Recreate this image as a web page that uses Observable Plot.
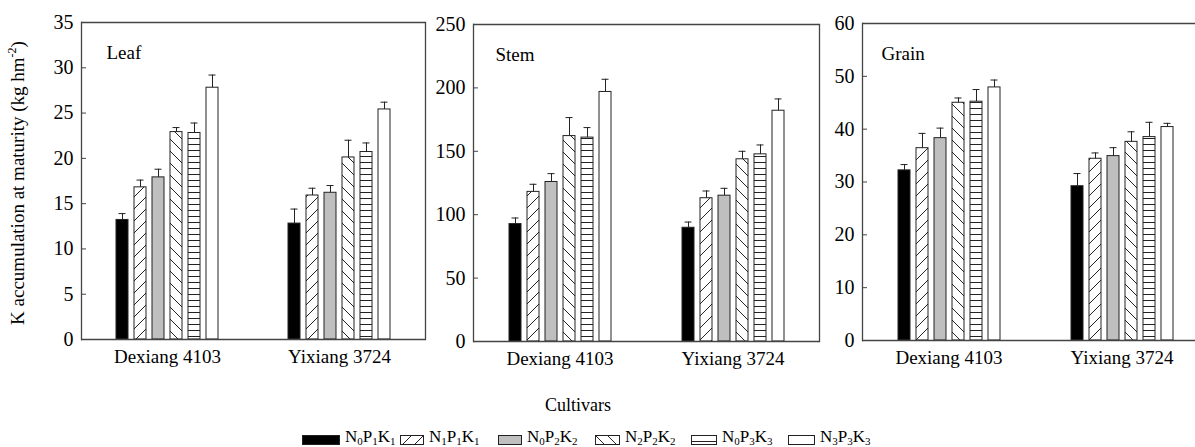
<!DOCTYPE html>
<html>
<head>
<meta charset="utf-8">
<script src="https://cdn.jsdelivr.net/npm/d3@7"></script>
<script src="https://cdn.jsdelivr.net/npm/@observablehq/plot@0.6"></script>
<style>
  html, body { margin: 0; padding: 0; background: #fff; overflow: hidden; }
  #fig { position: relative; width: 1195px; height: 447px; overflow: hidden; background: #fff;
         font-family: "Liberation Serif", "Times New Roman", serif; color: #000; }
  .panel { position: absolute; top: 0; }
  .panel svg { max-width: none !important; }
  #fig svg text { font-family: "Liberation Serif", "Times New Roman", serif !important; }
  .ytitle { position: absolute; left: 17px; top: 183px; white-space: nowrap; font-size: 19px;
            transform: translate(-50%, -50%) rotate(-90deg); }
  .xtitle { position: absolute; left: 578px; top: 396px; transform: translateX(-50%); font-size: 18px; line-height: 1; }
  .leg { position: absolute; top: 428px; height: 18px; display: flex; align-items: flex-start; font-size: 17px; line-height: 1; white-space: nowrap; }
  .leg svg { margin-top: 7px; margin-right: 5px; overflow: visible; }
  .leg sub { font-size: 11px; vertical-align: -3px; line-height: 0; }
</style>
</head>
<body>
<svg width="0" height="0" style="position:absolute">
  <defs>
    <pattern id="hatchFwd" patternUnits="userSpaceOnUse" width="12" height="12">
      <rect width="12" height="12" fill="#fff"/>
      <path d="M0,12 L12,0 M-3,3 L3,-3 M9,15 L15,9" stroke="#222" stroke-width="1"/>
    </pattern>
    <pattern id="hatchBack" patternUnits="userSpaceOnUse" width="12" height="12">
      <rect width="12" height="12" fill="#fff"/>
      <path d="M0,0 L12,12 M-3,9 L3,15 M9,-3 L15,3" stroke="#222" stroke-width="1"/>
    </pattern>
    <pattern id="hLines" patternUnits="userSpaceOnUse" width="8" height="6">
      <rect width="8" height="6" fill="#fff"/>
      <path d="M0,0.5 H8" stroke="#222" stroke-width="1"/>
    </pattern>
  </defs>
</svg>
<div id="fig">
  <div class="ytitle">K accumulation at maturity (kg hm<sup style="font-size:12px">-2</sup>)</div>
  <div class="xtitle">Cultivars</div>
</div>
<script>
// ---- data ----
const cultivars = ["Dexiang 4103", "Yixiang 3724"];
const treatments = ["N0P1K1", "N1P1K1", "N0P2K2", "N2P2K2", "N0P3K3", "N3P3K3"];
const fills = ["#000", "url(#hatchFwd)", "#bfbfbf", "url(#hatchBack)", "url(#hLines)", "#fff"];

const leafDexiang = [13.2, 16.8, 17.9, 22.9, 22.8, 27.8];
const leafDexiangSE = [0.7, 0.8, 0.9, 0.5, 1.1, 1.4];
const leafYixiang = [12.8, 15.9, 16.2, 20.1, 20.7, 25.4];
const leafYixiangSE = [1.6, 0.8, 0.8, 1.9, 1.0, 0.8];

const stemDexiang = [92.6, 118, 125.8, 162, 160.8, 196.8];
const stemDexiangSE = [4.8, 6.0, 6.6, 14.6, 7.9, 10.0];
const stemYixiang = [89.7, 113, 115, 143.7, 147.6, 182];
const stemYixiangSE = [4.5, 5.7, 5.8, 6.3, 7.4, 9.3];

const grainDexiang = [32.2, 36.4, 38.3, 45.0, 45.2, 47.9];
const grainDexiangSE = [1.1, 2.8, 1.9, 0.9, 2.3, 1.4];
const grainYixiang = [29.2, 34.4, 34.9, 37.6, 38.5, 40.4];
const grainYixiangSE = [2.4, 1.1, 1.6, 1.9, 2.8, 0.7];

const leafTicks = [0, 5, 10, 15, 20, 25, 30, 35];
const stemTicks = [0, 50, 100, 150, 200, 250];
const grainTicks = [0, 10, 20, 30, 40, 50, 60];

function rows(dex, dexSE, yix, yixSE) {
  const out = [];
  treatments.forEach((t, i) => {
    out.push({cultivar: cultivars[0], treatment: t, value: dex[i], se: dexSE[i]});
    out.push({cultivar: cultivars[1], treatment: t, value: yix[i], se: yixSE[i]});
  });
  return out;
}

const fig = document.getElementById("fig");
const ink = "#222";
const lineCol = "#444";
const serif = "Liberation Serif, Times New Roman, serif";

function panel({data, ticks, label, left, top, width, labelDx}) {
  const ymax = ticks[ticks.length - 1];
  const bottom = 31;
  const W = 50 + width + 1;
  const plot = Plot.plot({
    width: W,
    height: top + 317 + bottom,
    marginLeft: 50, marginRight: 1, marginTop: top, marginBottom: bottom,
    style: {background: "transparent", fontFamily: serif, fontSize: "20px", color: "#000", overflow: "visible", maxWidth: "none"},
    fx: {domain: cultivars, padding: 0, label: null},
    x: {domain: treatments, axis: null, paddingInner: 0.35, paddingOuter: 1.83},
    y: {domain: [0, ymax]},
    color: {domain: treatments, range: fills},
    marks: [
      Plot.barY(data, {fx: "cultivar", x: "treatment", y: "value", fill: "treatment", stroke: ink, strokeWidth: 1}),
      Plot.ruleX(data, {fx: "cultivar", x: "treatment", y1: "value", y2: d => d.value + d.se, stroke: ink, strokeWidth: 1}),
      Plot.tickY(data, {fx: "cultivar", x: "treatment", y: d => d.value + d.se, stroke: ink, strokeWidth: 1, insetLeft: 2.5, insetRight: 2.5}),
      Plot.ruleY([0], {stroke: lineCol, strokeWidth: 1.3}),
      Plot.ruleY([ymax], {stroke: lineCol, strokeWidth: 1.3}),
      Plot.frame({anchor: "left", facetAnchor: "left", stroke: lineCol, strokeWidth: 1.3}),
      Plot.frame({anchor: "right", facetAnchor: "right", stroke: lineCol, strokeWidth: 1.3}),
      Plot.axisY({ticks, tickSize: -5, tickPadding: 13, label: null, stroke: lineCol, fontFamily: serif, fontSize: 20, fill: "#000"}),
      Plot.axisFx({anchor: "bottom", tickSize: 0, tickPadding: 10, label: null, fontFamily: serif, fontSize: 19, fill: "#000"}),
      Plot.text([label], {fx: () => cultivars[0], frameAnchor: "top-left", lineAnchor: "top", textAnchor: "start", dx: labelDx, dy: 23, fontSize: 19, fontFamily: serif})
    ]
  });
  plot.style.maxWidth = "none";
  const wrap = document.createElement("div");
  wrap.className = "panel";
  wrap.style.left = (left - 50) + "px";
  wrap.style.width = W + "px";
  wrap.appendChild(plot);
  fig.appendChild(wrap);
}

panel({data: rows(leafDexiang, leafDexiangSE, leafYixiang, leafYixiangSE), ticks: leafTicks, label: "Leaf", left: 80, top: 22, width: 345, labelDx: 25});
panel({data: rows(stemDexiang, stemDexiangSE, stemYixiang, stemYixiangSE), ticks: stemTicks, label: "Stem", left: 473, top: 24, width: 346, labelDx: 22});
panel({data: rows(grainDexiang, grainDexiangSE, grainYixiang, grainYixiangSE), ticks: grainTicks, label: "Grain", left: 862, top: 23, width: 346, labelDx: 19});

// ---- legend ----
const legLefts = [302, 400, 498, 595, 691, 788];
const legWidths = [38, 24, 24, 25, 26, 27];
treatments.forEach((t, i) => {
  const item = document.createElement("div");
  item.className = "leg";
  item.style.left = legLefts[i] + "px";
  const sw = document.createElementNS("http://www.w3.org/2000/svg", "svg");
  sw.setAttribute("width", legWidths[i]);
  sw.setAttribute("height", 10);
  const r = document.createElementNS("http://www.w3.org/2000/svg", "rect");
  r.setAttribute("x", 0.5); r.setAttribute("y", 0.5);
  r.setAttribute("width", legWidths[i] - 1); r.setAttribute("height", 9);
  r.setAttribute("fill", fills[i]); r.setAttribute("stroke", ink);
  sw.appendChild(r);
  item.appendChild(sw);
  const lab = document.createElement("span");
  lab.innerHTML = t.replace(/([NPK])(\d)/g, "$1<sub>$2</sub>");
  item.appendChild(lab);
  fig.appendChild(item);
});
</script>
</body>
</html>
